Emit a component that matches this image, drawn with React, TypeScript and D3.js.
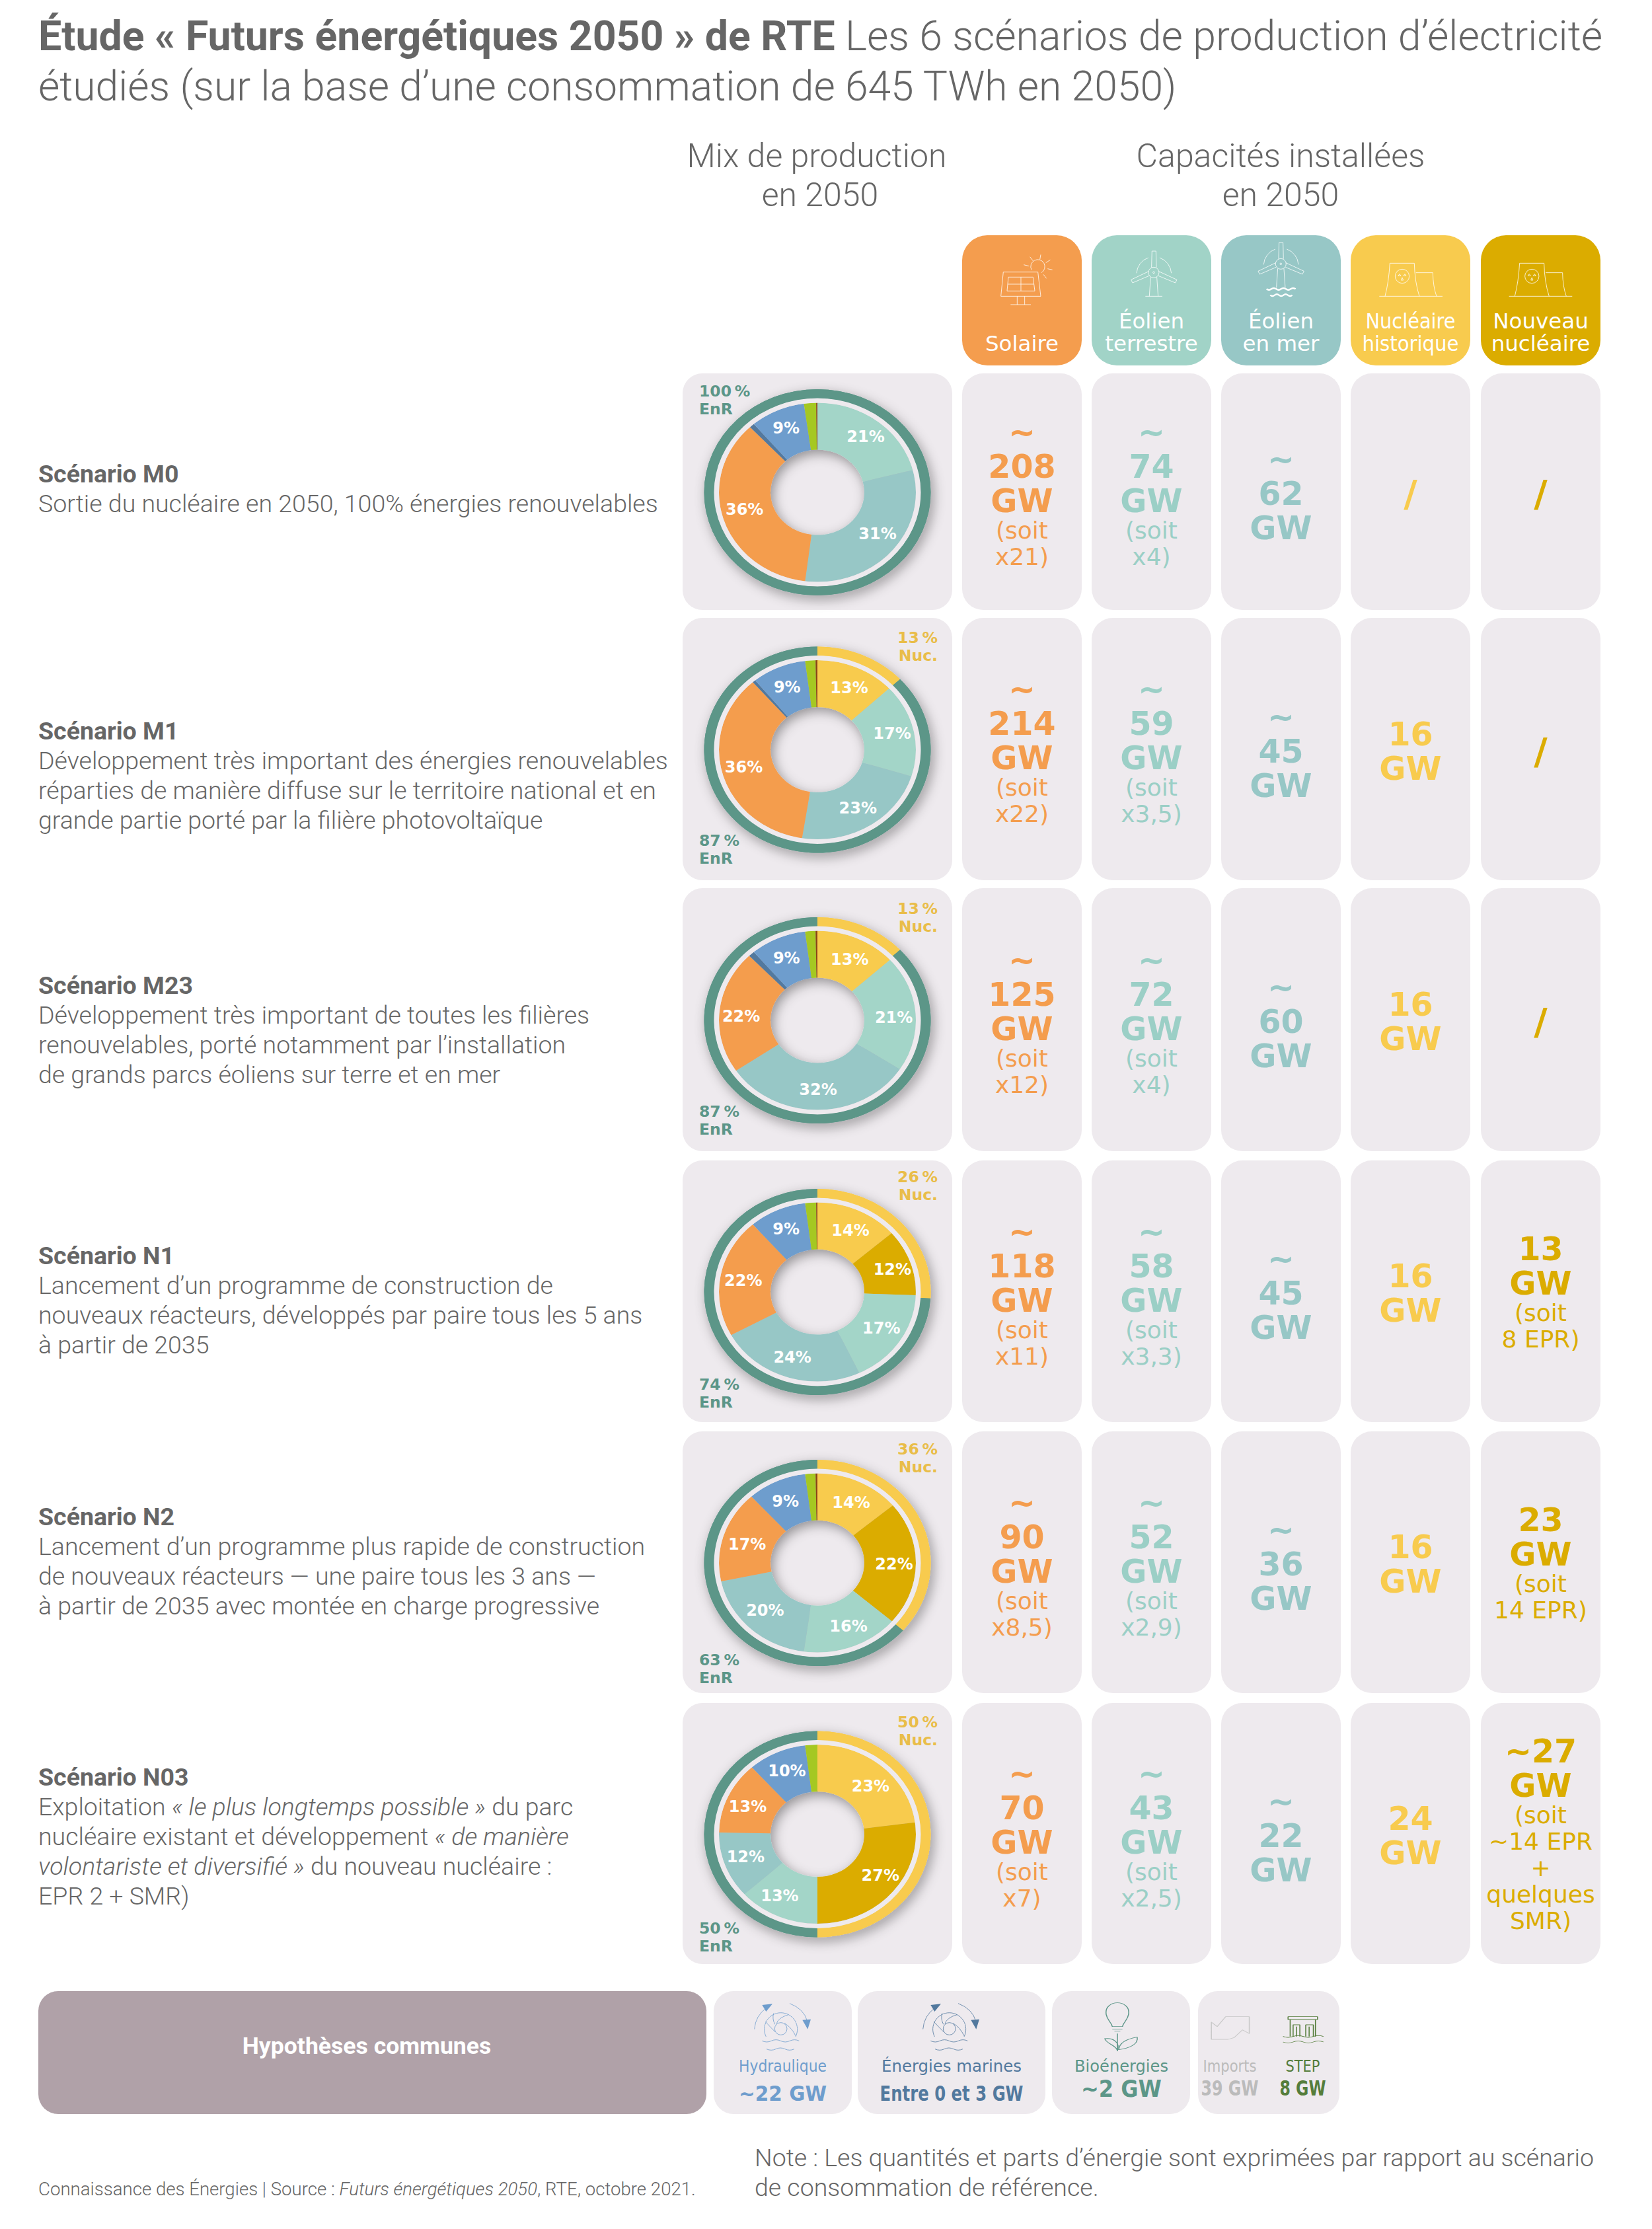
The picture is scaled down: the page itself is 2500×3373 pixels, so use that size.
import React from "react";
import * as d3 from "d3";

const scenarioNames = ["Scénario M0", "Scénario M1", "Scénario M23", "Scénario N1", "Scénario N2", "Scénario N03"];
const descM0 = ["Sortie du nucléaire en 2050, 100% énergies renouvelables"];
const descM1 = [
  "Développement très important des énergies renouvelables",
  "réparties de manière diffuse sur le territoire national et en",
  "grande partie porté par la filière photovoltaïque",
];
const descM23 = [
  "Développement très important de toutes les filières",
  "renouvelables, porté notamment par l’installation",
  "de grands parcs éoliens sur terre et en mer",
];
const descN1 = [
  "Lancement d’un programme de construction de",
  "nouveaux réacteurs, développés par paire tous les 5 ans",
  "à partir de 2035",
];
const descN2 = [
  "Lancement d’un programme plus rapide de construction",
  "de nouveaux réacteurs — une paire tous les 3 ans —",
  "à partir de 2035 avec montée en charge progressive",
];
const descN03: any[] = [
  [["Exploitation ", false], ["« le plus longtemps possible »", true], [" du parc", false]],
  [["nucléaire existant et développement ", false], ["« de manière", true]],
  [["volontariste et diversifié »", true], [" du nouveau nucléaire :", false]],
  [["EPR 2 + SMR)", false]],
];
const descriptions: any[] = [descM0, descM1, descM23, descN1, descN2, descN03];

// nuc. historique, nouveau nuc., éolien terrestre, éolien en mer, solaire, marines, hydraulique, bio, autre
const mixKeys = ["nucH", "nucN", "on", "off", "sol", "mar", "hyd", "bio", "oth"];
const mixM0 = [0, 0, 21, 31, 36, 0.8, 9, 2, 0.2];
const mixM1 = [13, 0, 16.8, 22.7, 36.1, 0.5, 8.9, 1.7, 0.3];
const mixM23 = [13.2, 0, 21, 31.3, 22.3, 1, 9.2, 1.7, 0.3];
const mixN1 = [13.6, 12, 17.4, 24, 21.6, 0, 9.4, 1.8, 0.2];
const mixN2 = [13.9, 22.4, 15.9, 19.5, 16.6, 0, 9.7, 1.7, 0.3];
const mixN03 = [22.9, 27.1, 13.3, 12, 13.1, 0, 9.6, 2, 0];
const mixes = [mixM0, mixM1, mixM23, mixN1, mixN2, mixN03];
const labelsM0 = ["", "", "21%", "31%", "36%", "", "9%", "", ""];
const labelsM1 = ["13%", "", "17%", "23%", "36%", "", "9%", "", ""];
const labelsM23 = ["13%", "", "21%", "32%", "22%", "", "9%", "", ""];
const labelsN1 = ["14%", "12%", "17%", "24%", "22%", "", "9%", "", ""];
const labelsN2 = ["14%", "22%", "16%", "20%", "17%", "", "9%", "", ""];
const labelsN03 = ["23%", "27%", "13%", "12%", "13%", "", "10%", "", ""];
const mixLabels = [labelsM0, labelsM1, labelsM23, labelsN1, labelsN2, labelsN03];
const nucShare = [0, 13, 13, 26, 36, 50];
const enrShare = [100, 87, 87, 74, 63, 50];

const mixColors = ["#F8CB4E", "#DBAC00", "#A3D5C8", "#97C7C6", "#F49D4E", "#52799E", "#6E9DCD", "#A5C823", "#8B4513"];

const solaireMain = [["~", "208", "GW"], ["~", "214", "GW"], ["~", "125", "GW"], ["~", "118", "GW"], ["~", "90", "GW"], ["~", "70", "GW"]];
const solaireSub = [["(soit", "x21)"], ["(soit", "x22)"], ["(soit", "x12)"], ["(soit", "x11)"], ["(soit", "x8,5)"], ["(soit", "x7)"]];
const terrestreMain = [["~", "74", "GW"], ["~", "59", "GW"], ["~", "72", "GW"], ["~", "58", "GW"], ["~", "52", "GW"], ["~", "43", "GW"]];
const terrestreSub = [["(soit", "x4)"], ["(soit", "x3,5)"], ["(soit", "x4)"], ["(soit", "x3,3)"], ["(soit", "x2,9)"], ["(soit", "x2,5)"]];
const merMain = [["~", "62", "GW"], ["~", "45", "GW"], ["~", "60", "GW"], ["~", "45", "GW"], ["~", "36", "GW"], ["~", "22", "GW"]];
const merSub = [[], [], [], [], [], []];
const histMain = [["/"], ["16", "GW"], ["16", "GW"], ["16", "GW"], ["16", "GW"], ["24", "GW"]];
const histSub = [[], [], [], [], [], []];
const nouvMain = [["/"], ["/"], ["/"], ["13", "GW"], ["23", "GW"], ["~27", "GW"]];
const nouvSub = [[], [], [], ["(soit", "8 EPR)"], ["(soit", "14 EPR)"], ["(soit", "~14 EPR", "+", "quelques", "SMR)"]];

const capMain = [solaireMain, terrestreMain, merMain, histMain, nouvMain];
const capSub = [solaireSub, terrestreSub, merSub, histSub, nouvSub];
const capHeaders = [["Solaire"], ["Éolien", "terrestre"], ["Éolien", "en mer"], ["Nucléaire", "historique"], ["Nouveau", "nucléaire"]];
const capFills = ["#F49D4E", "#A1D3C7", "#97C7C6", "#F8CB4E", "#DBAC00"];
const capText = ["#F49D4E", "#9BCFC6", "#97C7C6", "#F8CB4E", "#DBAC00"];

// layout
const rowTop = [565, 935, 1344, 1756, 2166, 2577];
const rowBottom = [923, 1332, 1742, 2152, 2562, 2972];
const colLeft = [1456, 1652, 1848, 2044, 2241];
const colW = 181;
const sy = 0.91;
const nucBase = [0, 973, 1383, 1789, 2201, 2614];
const enrBase = [600, 1280, 1690, 2103, 2520, 2926];
const titleBase = [730, 1119, 1504, 1913, 2308, 2702];
// hand adjustment of the donut labels, in px, slice order
const labelNudge: number[][][] = [
  [[0, 0], [0, 0], [2, -2], [4, -8], [0, -8], [0, 0], [0, -2]],
  [[2, 2], [0, 0], [0, -2], [0, -2], [0, -4], [0, 0], [0, 2]],
  [[2, 4], [0, 0], [0, 4], [0, -2], [0, 4], [0, 0], [0, 2]],
  [[2, 2], [4, 0], [0, -4], [-2, -2], [2, 0], [0, 0], [0, 0]],
  [[2, 4], [0, 0], [6, -4], [0, -6], [4, 4], [0, 0], [0, 2]],
  [[4, 6], [8, -8], [-10, -4], [0, -4], [0, 2], [0, 0], [2, 0]],
];

const SERIF = "Roboto";
const VERD = "'DejaVu Sans'";
const COND = "'DejaVu Sans Condensed','DejaVu Sans'";
const GREY = "#666666";
const PANEL = "#EEEAEE";

const pieGen = d3.pie<number>().sort(null).startAngle(0).endAngle(2 * Math.PI);
const sliceArc = d3.arc<any>().innerRadius(71).outerRadius(149);
const ringArc = d3.arc<any>().innerRadius(156.5).outerRadius(171.5);
const labelArc = d3.arc<any>().innerRadius(116).outerRadius(116);
const full = { startAngle: 0, endAngle: 2 * Math.PI };
const gapArc = d3.arc<any>().innerRadius(149).outerRadius(157)(full) as string;
const gapDisc = d3.arc<any>().innerRadius(0).outerRadius(157)(full) as string;

function Donut({ i }: { i: number }) {
  const cx = 1237;
  const cy = (rowTop[i] + rowBottom[i]) / 2 + 1;
  const tf = `translate(${cx},${cy}) scale(1,${sy})`;
  const slices = pieGen(mixes[i]);
  const ring = pieGen([nucShare[i], enrShare[i]]);
  const ringPaths = ring.map((d, k) =>
    d.value > 0 ? <path key={k} d={ringArc(d) as string} fill={k === 0 ? "#F8CB4E" : "#5C9688"} /> : null
  );
  return (
    <g>
      <g filter="url(#shadow)">
        <g transform={tf}>{ringPaths}</g>
      </g>
      <path transform={tf} d={gapDisc} fill={PANEL} />
      <g filter="url(#shadow)">
        <g transform={tf}>
          {slices.map((d, k) =>
            d.value > 0 ? <path key={mixKeys[k]} d={sliceArc(d) as string} fill={mixColors[k]} /> : null
          )}
        </g>
      </g>
      <path transform={tf} d={gapArc} fill={PANEL} />
      <g transform={tf}>{ringPaths}</g>
      {slices.map((d, k) => {
        if (!mixLabels[i][k]) return null;
        const [x, y] = labelArc.centroid(d);
        const n = labelNudge[i][k] || [0, 0];
        return (
          <text key={k} x={cx + x + n[0]} y={cy + y * sy + 9 + n[1]} textAnchor="middle" fontFamily={VERD} fontWeight={700} fontSize={24} fill="#fff">
            {mixLabels[i][k]}
          </text>
        );
      })}
      {nucShare[i] > 0 && (
        <text textAnchor="end" fontFamily={VERD} fontWeight={700} fontSize={23.5} fill="#E9BD49">
          <tspan x={1419} y={nucBase[i]}>{nucShare[i]}{"\u2009"}%</tspan>
          <tspan x={1419} y={nucBase[i] + 27}>Nuc.</tspan>
        </text>
      )}
      <text fontFamily={VERD} fontWeight={700} fontSize={23.5} fill="#5C9688">
        <tspan x={1058} y={enrBase[i]}>{enrShare[i]}{"\u2009"}%</tspan>
        <tspan x={1058} y={enrBase[i] + 27}>EnR</tspan>
      </text>
    </g>
  );
}

function CapCell({ c, i }: { c: number; i: number }) {
  const main = capMain[c][i];
  const sub = capSub[c][i];
  const x = colLeft[c] + colW / 2;
  const center = (rowTop[i] + rowBottom[i]) / 2;
  const span = 52 * (main.length - 1) + (sub.length ? 43 + 40 * (sub.length - 1) : 0);
  const first = center + 17 - span / 2 + (main.length === 1 ? 2 : 0);
  const lastMain = first + 52 * (main.length - 1);
  return (
    <g fill={capText[c]} textAnchor="middle" fontFamily={VERD}>
      {main.map((t, k) => (
        <text key={k} x={x} y={first + 52 * k + 3} fontWeight={700} fontSize={t === "/" ? 56 : 49}>{t}</text>
      ))}
      {sub.map((t, k) => (
        <text key={k} x={x} y={lastMain + 43 + 40 * k} fontSize={36}>{t}</text>
      ))}
    </g>
  );
}

const line = (c: string, w = 2.4) => ({ fill: "none", stroke: c, strokeWidth: w, vectorEffect: "non-scaling-stroke" as any, strokeLinejoin: "round" as any });

function waves(x0: number, y: number, n: number, w: number, h: number) {
  const p = d3.path();
  p.moveTo(x0, y);
  let x = x0;
  for (let k = 0; k < n; k++) {
    p.quadraticCurveTo(x + w / 2, y + (k % 2 ? -h : h), x + w, y);
    x += w;
  }
  return p.toString();
}

function Turbine({ c, base }: { c: string; base: boolean }) {
  return (
    <g {...line(c)}>
      <path d="M904 238 L898 325 M932 238 L938 325" />
      {base && <path d="M880 325 H957" />}
      <circle cx={918} cy={217} r={24} />
      <circle cx={918} cy={217} r={4} />
      <path d="M908 194 L910 120 H928 L930 194 M895 212 L815 250 L822 264 L897 232 M941 212 L1023 250 L1016 264 L939 232" />
      <path d="M840 220 A80 80 0 0 1 893 150 M945 150 A80 80 0 0 1 998 220" />
    </g>
  );
}

function Nuclear({ dx }: { dx: number }) {
  return (
    <g transform={`translate(${dx},0)`} {...line("#fff")}>
      <path d="M472 325 H759 M498 325 Q515 260 520 175 H631 Q633 260 654 325 M638 218 H715 Q716 280 732 325" />
      <circle cx={576} cy={234} r={32} />
      <path d="M558 232 L570 232 L564 224 Z M582 232 L594 232 L588 224 Z M571 252 L581 252 L576 240 Z" />
    </g>
  );
}

function HeaderIcons() {
  return (
    <g>
      <g transform="translate(1440,340) scale(0.3333)">
        <g {...line("#fff")}>
          <path d="M235 215 L392 215 L405 325 L224 325 Z M258 238 L370 238 L378 301 L252 301 Z M315 238 V301 M255 270 H374" />
          <path d="M298 325 V363 M332 325 V363 M268 363 H360" />
          <path d="M363 205 A32 32 0 1 1 408 218" />
          <path d="M328 182 L352 188 M356 146 L370 164 M405 136 L401 158 M448 160 L428 173 M458 205 L436 200 M431 244 L417 226" />
        </g>
        <Turbine c="#fff" base={true} />
        <g transform="translate(577,-39)">
          <Turbine c="#fff" base={false} />
        </g>
        <path {...line("#fff")} d={waves(1430, 292, 6, 22, 8)} />
        <path {...line("#fff")} d={waves(1447, 320, 5, 20, 8)} />
      </g>
      <g transform="translate(1930,340) scale(0.3333)">
        <Nuclear dx={0} />
        <Nuclear dx={589} />
      </g>
    </g>
  );
}

function HydroIcon({ c, x }: { c: string; x: number }) {
  return (
    <g transform={`translate(${x},3020) scale(0.3333)`}>
      <g {...line(c, 2.4)}>
        <path d="M125 152 Q130 90 180 55 M285 35 Q350 60 365 115" />
        <path d="M178 186 A75 75 0 1 1 312 186" />
        <circle cx={245} cy={150} r={28} />
        <path d="M175 118 Q195 140 220 165 M280 86 Q232 100 225 128 M262 125 Q295 145 312 182 M212 80 Q205 105 218 130" />
        <path d={waves(160, 205, 4, 42, 10)} />
        <path d={waves(180, 242, 3, 42, 10)} />
      </g>
      <path d="M207 37 L160 42 L178 72 Z M343 110 L381 107 L367 152 Z" fill={c} />
    </g>
  );
}

function BottomIcons() {
  return (
    <g>
      <HydroIcon c="#6E9DCD" x={1100} />
      <HydroIcon c="#52799E" x={1355} />
      <g transform={`translate(1050,3000) scale(${1 / 1.568},${1 / 3})`}>
        <g {...line("#5C9688")}>
          <path d="M993 200 C990 175 978 170 978 135 C978 110 990 92 1005 92 C1020 92 1032 110 1032 135 C1032 170 1020 175 1017 200 Z" />
          <path d="M993 212 H1017 M998 220 H1012 M1005 232 V312" />
          <path d="M1005 308 C1000 282 980 280 975 255 C995 250 1012 272 1005 308 Z" />
          <path d="M1008 305 C1010 270 1030 255 1052 248 C1056 282 1030 300 1008 305 Z" />
        </g>
        <g {...line("#C8C8C8")}>
          <path d="M1262 155 H1318 V232 L1302 215 L1282 250 L1268 258 H1228 V180 L1242 200 L1262 155 Z" />
        </g>
        <g {...line("#557D3B")}>
          <path d="M1410 155 H1480 V168 H1410 Z M1415 168 V245 M1475 168 V245" />
          <path d="M1422 245 V192 H1438 V245 M1452 245 V192 H1470 V245 M1430 200 V245 M1460 200 V245" />
          <path d={waves(1398, 245, 4, 24, 8)} />
          <path d={waves(1398, 270, 4, 24, 8)} />
        </g>
      </g>
    </g>
  );
}

const bottomPanels = [[1080, 1289], [1298, 1582], [1592, 1801], [1813, 2027]];
const bottomLabels = [
  { name: "Hydraulique", value: "~22 GW", x: 1184.5, c: "#6E9DCD", base: 3179, w1: 133, w2: 133, s1: 25, s2: 32 },
  { name: "Énergies marines", value: "Entre 0 et 3 GW", x: 1440, c: "#52799E", base: 3179, w1: 212, w2: 217, s1: 25, s2: 32 },
  { name: "Bioénergies", value: "~2 GW", x: 1697, c: "#5C9688", base: 3173, w1: 142, w2: 122, s1: 25, s2: 36 },
  { name: "Imports", value: "39 GW", x: 1861, c: "#BBBBBB", base: 3171, w1: 81, w2: 87, s1: 25, s2: 32 },
  { name: "STEP", value: "8 GW", x: 1971.5, c: "#557D3B", base: 3171, w1: 52, w2: 70, s1: 25, s2: 32 },
];

export default function App() {
  return (
    <div style={{ position: "absolute", left: 0, top: 0 }}>
      <svg width={2500} height={3373} viewBox="0 0 2500 3373" style={{ display: "block", background: "#fff" }}>
        <defs>
          <filter id="shadow" x="-30%" y="-30%" width="160%" height="160%">
            <feDropShadow dx={4} dy={6} stdDeviation={9} floodColor="#000" floodOpacity={0.38} />
          </filter>
        </defs>

        <g fontFamily={SERIF} fill={GREY}>
          <text x={58} y={76} fontSize={62.6} fontWeight={300}>
            <tspan fontWeight={700}>Étude « Futurs énergétiques 2050 » de RTE</tspan> Les 6 scénarios de production d’électricité
          </text>
          <text x={58} y={152} fontSize={62.4} fontWeight={300}>étudiés (sur la base d’une consommation de 645 TWh en 2050)</text>
          <g fontSize={50} fontWeight={300} textAnchor="middle">
            <text x={1236} y={253}>Mix de production</text>
            <text x={1241} y={312}>en 2050</text>
            <text x={1938} y={253}>Capacités installées</text>
            <text x={1938} y={312}>en 2050</text>
          </g>
        </g>

        {capHeaders.map((h, c) => (
          <g key={c}>
            <rect x={colLeft[c]} y={356} width={colW} height={197} rx={38} fill={capFills[c]} />
            {h.map((t, k) => (
              <text
                key={k}
                x={colLeft[c] + colW / 2}
                y={531 - 34 * (h.length - 1 - k)}
                textAnchor="middle"
                fontFamily={VERD}
                fontSize={32.5}
                fill="#fff"
                {...(c === 3 ? { textLength: k === 0 ? 136 : 146, lengthAdjust: "spacingAndGlyphs" } : {})}
              >
                {t}
              </text>
            ))}
          </g>
        ))}
        <HeaderIcons />

        {scenarioNames.map((name, i) => (
          <g key={name}>
            <rect x={1033} y={rowTop[i]} width={408} height={rowBottom[i] - rowTop[i]} rx={30} fill={PANEL} />
            {colLeft.map((x, c) => (
              <rect key={c} x={x} y={rowTop[i]} width={colW} height={rowBottom[i] - rowTop[i]} rx={32} fill={PANEL} />
            ))}
            <Donut i={i} />
            {colLeft.map((_, c) => <CapCell key={c} c={c} i={i} />)}
            <text x={58} y={titleBase[i]} fontFamily={SERIF} fontWeight={700} fontSize={37.5} fill={GREY}>{name}</text>
            {descriptions[i].map((l: any, k: number) => (
              <text key={k} x={58} y={titleBase[i] + 45 * (k + 1)} fontFamily={SERIF} fontWeight={300} fontSize={37.5} fill={GREY}>
                {typeof l === "string"
                  ? l
                  : l.map((s: any, m: number) => <tspan key={m} fontStyle={s[1] ? "italic" : "normal"}>{s[0]}</tspan>)}
              </text>
            ))}
          </g>
        ))}

        <rect x={58} y={3013} width={1011} height={186} rx={30} fill="#B0A1A8" />
        <text x={555} y={3108} textAnchor="middle" fontFamily={SERIF} fontWeight={700} fontSize={35.6} fill="#fff">Hypothèses communes</text>
        {bottomPanels.map((p, k) => (
          <rect key={k} x={p[0]} y={3013} width={p[1] - p[0]} height={186} rx={30} fill={PANEL} />
        ))}
        <BottomIcons />
        {bottomLabels.map((b) => (
          <g key={b.name} textAnchor="middle" fill={b.c} fontFamily={COND}>
            <text x={b.x} y={3135} fontSize={b.s1} textLength={b.w1} lengthAdjust="spacingAndGlyphs">{b.name}</text>
            <text x={b.x} y={b.base} fontSize={b.s2} fontWeight={700} textLength={b.w2} lengthAdjust="spacingAndGlyphs">{b.value}</text>
          </g>
        ))}

        <text x={58} y={3322} fontFamily={SERIF} fontSize={27.6} fontWeight={300} fill={GREY}>
          Connaissance des Énergies | Source : <tspan fontStyle="italic">Futurs énergétiques 2050</tspan>, RTE, octobre 2021.
        </text>
        <g fontFamily={SERIF} fontSize={37.5} fontWeight={300} fill={GREY}>
          <text x={1142} y={3278}>Note : Les quantités et parts d’énergie sont exprimées par rapport au scénario</text>
          <text x={1142} y={3323}>de consommation de référence.</text>
        </g>
      </svg>
    </div>
  );
}
